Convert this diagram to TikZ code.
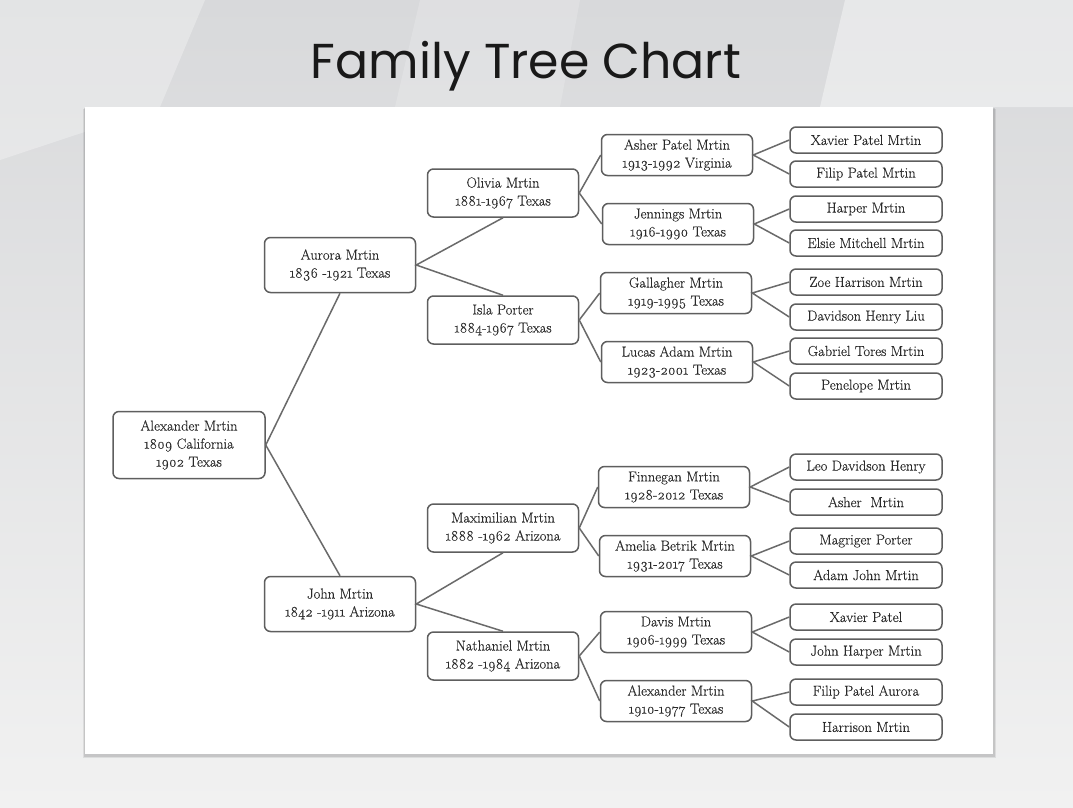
\documentclass[tikz,border=0pt]{standalone}
\usepackage{fontspec}
\newfontfamily\titlefont{Poppins}
\newfontfamily\boxfont{Latin Modern Roman}[Numbers=OldStyle,FakeBold=0.3]
\usetikzlibrary{positioning}
\definecolor{boxline}{HTML}{5E5E5E}
\definecolor{linkline}{HTML}{6A6A6A}
\definecolor{boxtext}{HTML}{2A2A2A}
\definecolor{bgtop}{HTML}{D8D9DB}
\definecolor{bgbot}{HTML}{F1F1F1}
\tikzset{
  person/.style={draw=boxline, line width=1.5pt, rounded corners=6pt, fill=white,
    align=center, inner sep=0pt, text=boxtext, font=\boxfont\fontsize{14.5}{18}\selectfont},
  lvA/.style={person, minimum width=152pt, minimum height=67pt},
  lvB/.style={person, minimum width=151pt, minimum height=55pt},
  lvC/.style={person, minimum width=151pt, minimum height=48pt},
  lvD/.style={person, minimum width=151pt, minimum height=41pt},
  lvE/.style={person, minimum width=152pt, minimum height=26pt},
  link/.style={draw=linkline, line width=1.5pt}
}
\begin{document}
\begin{tikzpicture}[x=1pt,y=-1pt]
% background
\useasboundingbox (0,0) rectangle (1073,807);
\shade[top color=bgtop, bottom color=bgbot] (0,0) rectangle (1073,807);
\fill[white, opacity=0.30] (0,0) -- (205,0) -- (160,107) -- (0,160) -- cycle;
\fill[white, opacity=0.18] (420,0) -- (580,0) -- (560,107) -- (395,107) -- cycle;
\fill[white, opacity=0.40] (845,0) -- (1073,0) -- (1073,107) -- (820,107) -- cycle;
\fill[black, opacity=0.10] (84,108) rectangle (995,757);
\fill[black, opacity=0.08] (83,109) rectangle (996,758);
\fill[white] (85,107) rectangle (993,754);
% title
\node[anchor=base, font=\titlefont\fontsize{49}{52}\selectfont, text=black!90] (title) at (526,78) {Family Tree Chart};
% level 1
\node[lvA] (alex) at (189,445) {Alexander Mrtin\\1809 California\\1902 Texas};
% level 2
\node[lvB] (aurora) at (340,265) {Aurora Mrtin\\1836 -1921 Texas};
\node[lvB] (john) at (340,604) {John Mrtin\\1842 -1911 Arizona};
% level 3
\node[lvC] (olivia) at (503,193) {Olivia Mrtin\\1881-1967 Texas};
\node[lvC] (isla) at (503,320) {Isla Porter\\1884-1967 Texas};
\node[lvC] (maxi) at (503,528) {Maximilian Mrtin\\1888 -1962 Arizona};
\node[lvC] (nath) at (503,656) {Nathaniel Mrtin\\1882 -1984 Arizona};
% level 4
\node[lvD] (asher) at (677,155) {Asher Patel Mrtin\\1913-1992 Virginia};
\node[lvD] (jenn) at (678,224) {Jennings Mrtin\\1916-1990 Texas};
\node[lvD] (gall) at (676,293) {Gallagher Mrtin\\1919-1995 Texas};
\node[lvD] (lucas) at (677,362) {Lucas Adam Mrtin\\1923-2001 Texas};
\node[lvD] (finn) at (674,487) {Finnegan Mrtin\\1928-2012 Texas};
\node[lvD] (amel) at (675,556) {Amelia Betrik Mrtin\\1931-2017 Texas};
\node[lvD] (davis) at (676,632) {Davis Mrtin\\1906-1999 Texas};
\node[lvD] (alex2) at (676,701) {Alexander Mrtin\\1910-1977 Texas};
% level 5
\node[lvE] (e1) at (866,140) {Xavier Patel Mrtin};
\node[lvE] (e2) at (866,174) {Filip Patel Mrtin};
\node[lvE] (e3) at (866,209) {Harper Mrtin};
\node[lvE] (e4) at (866,243) {Elsie Mitchell Mrtin};
\node[lvE] (e5) at (866,282) {Zoe Harrison Mrtin};
\node[lvE] (e6) at (866,317) {Davidson Henry Liu};
\node[lvE] (e7) at (866,351) {Gabriel Tores Mrtin};
\node[lvE] (e8) at (866,386) {Penelope Mrtin};
\node[lvE] (e9) at (866,467) {Leo Davidson Henry};
\node[lvE] (e10) at (866,502) {Asher\ \ Mrtin};
\node[lvE] (e11) at (866,541) {Magriger Porter};
\node[lvE] (e12) at (866,575) {Adam John Mrtin};
\node[lvE] (e13) at (866,617) {Xavier Patel};
\node[lvE] (e14) at (866,652) {John Harper Mrtin};
\node[lvE] (e15) at (866,692) {Filip Patel Aurora};
\node[lvE] (e16) at (866,727) {Harrison Mrtin};
% connectors
\draw[link] (aurora.south) -- (alex.east) -- (john.north);
\draw[link] (olivia.south) -- (aurora.east) -- (isla.north);
\draw[link] (maxi.south) -- (john.east) -- (nath.north);
\draw[link] (asher.west) -- (olivia.east) -- (jenn.west);
\draw[link] (gall.west) -- (isla.east) -- (lucas.west);
\draw[link] (finn.west) -- (maxi.east) -- (amel.west);
\draw[link] (davis.west) -- (nath.east) -- (alex2.west);
\draw[link] (e1.west) -- (asher.east) -- (e2.west);
\draw[link] (e3.west) -- (jenn.east) -- (e4.west);
\draw[link] (e5.west) -- (gall.east) -- (e6.west);
\draw[link] (e7.west) -- (lucas.east) -- (e8.west);
\draw[link] (e9.west) -- (finn.east) -- (e10.west);
\draw[link] (e11.west) -- (amel.east) -- (e12.west);
\draw[link] (e13.west) -- (davis.east) -- (e14.west);
\draw[link] (e15.west) -- (alex2.east) -- (e16.west);
\end{tikzpicture}
\end{document}
